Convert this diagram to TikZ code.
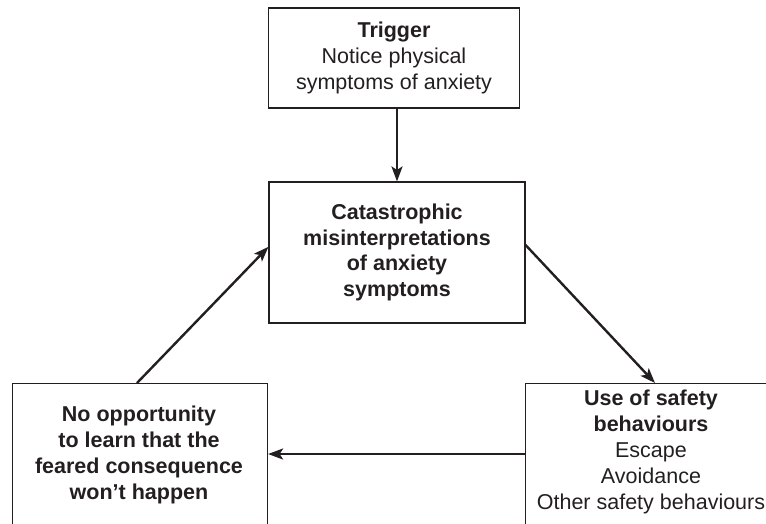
\documentclass[tikz,border=0pt]{standalone}
\usepackage{fontspec}
\setmainfont{Liberation Sans}
\usetikzlibrary{arrows.meta,calc}
\definecolor{ink}{HTML}{231F20}
\begin{document}
\begin{tikzpicture}[x=1pt,y=-1pt,
  box/.style={draw=ink,line width=1.1pt,rectangle,inner sep=0pt},
  txt/.style={align=center,text=ink,inner sep=0pt,
    font=\fontsize{21.5}{25.8}\selectfont},
  flow/.style={draw=ink,line width=2.4pt,
    -{Stealth[length=15pt,width=11pt,inset=3.5pt]}}]
\useasboundingbox (0,0) rectangle (766,523);
\clip (0,0) rectangle (766,523);

% trigger box
\node[box,txt,minimum width=251pt,minimum height=100pt] (trig) at (394,58)
  {\textbf{Trigger}\\Notice physical\\symptoms of anxiety};

% central box
\node[box,txt,minimum width=256pt,minimum height=141pt] (mid) at (397,252.5)
  {\textbf{Catastrophic}\\\textbf{misinterpretations}\\\textbf{of anxiety}\\\textbf{symptoms}};

% lower boxes (run past the page edges)
\node[box,anchor=north west,minimum width=260pt,minimum height=160pt] (br) at (525,383) {};
\node[txt] (brtxt) at (651,452)
  {\textbf{Use of safety}\\\textbf{behaviours}\\Escape\\Avoidance\\Other safety behaviours};

\node[box,anchor=north west,minimum width=255pt,minimum height=160pt] (bl) at (12,383) {};
\node[txt] (bltxt) at (139,455)
  {\textbf{No opportunity}\\\textbf{to learn that the}\\\textbf{feared consequence}\\\textbf{won't happen}};

% connector end points on the box edges
\coordinate (midR) at ($(mid.north east)!0.447!(mid.south east)$);
\coordinate (midL) at ($(mid.north west)!0.46!(mid.south west)$);
\coordinate (brTop) at ($(br.north west)+(130,0)$);
\coordinate (brL) at ($(br.north west)+(0,71)$);
\coordinate (blTop) at ($(bl.north west)+(125,0)$);

% cycle
\draw[flow] (trig.south -| mid.north) -- (mid.north);
\draw[flow] (midR) -- (brTop);
\draw[flow] (brL) -- (brL -| bl.east);
\draw[flow] (blTop) -- (midL);
\end{tikzpicture}
\end{document}
